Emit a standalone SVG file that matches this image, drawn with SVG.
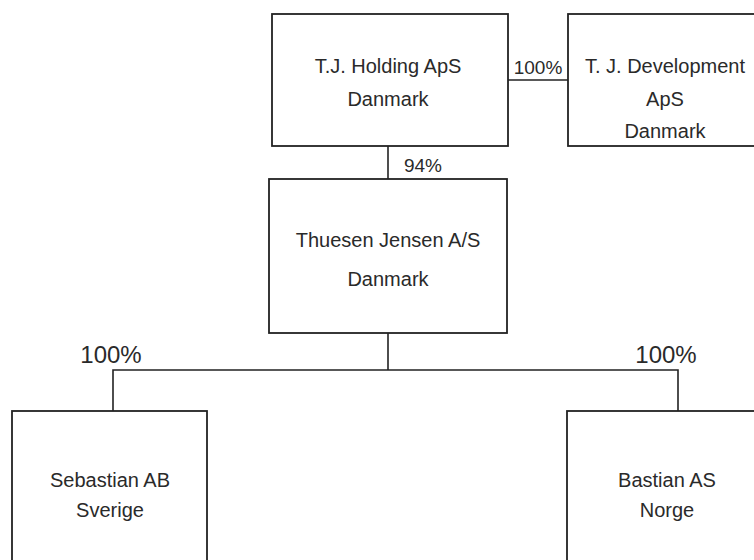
<svg xmlns="http://www.w3.org/2000/svg" width="754" height="560" viewBox="0 0 754 560">
<style>
.box{fill:#fff;stroke:#222;stroke-width:1.8}
.ln{fill:none;stroke:#222;stroke-width:1.6}
text{font-family:"Liberation Sans",Arial,sans-serif;font-size:20px;fill:#2a2a2a;text-anchor:middle}
.pct{font-size:19px}
.big{font-size:24px}
</style>
<g id="connectors">
<path class="ln" d="M508 80H568"/>
<path class="ln" d="M388 146V180"/>
<path class="ln" d="M388 333V370M113 411V370H678V411"/>
</g>
<g id="holding">
<rect class="box" x="272" y="14" width="236" height="132"/>
<text x="388" y="73">T.J. Holding ApS</text>
<text x="388" y="106">Danmark</text>
</g>
<text class="pct" x="538" y="74">100%</text>
<g id="development">
<rect class="box" x="568" y="14" width="200" height="132"/>
<text x="665" y="73">T. J. Development</text>
<text x="665" y="106">ApS</text>
<text x="665" y="138">Danmark</text>
</g>
<text class="pct" x="423" y="172">94%</text>
<g id="thuesen">
<rect class="box" x="269" y="179" width="238" height="154"/>
<text x="388" y="247">Thuesen Jensen A/S</text>
<text x="388" y="286">Danmark</text>
</g>
<text class="big" x="111" y="363">100%</text>
<text class="big" x="666" y="363">100%</text>
<g id="sebastian">
<rect class="box" x="12" y="411" width="195" height="160"/>
<text x="110" y="487">Sebastian AB</text>
<text x="110" y="517">Sverige</text>
</g>
<g id="bastian">
<rect class="box" x="567" y="411" width="200" height="160"/>
<text x="667" y="487">Bastian AS</text>
<text x="667" y="517">Norge</text>
</g>
</svg>
